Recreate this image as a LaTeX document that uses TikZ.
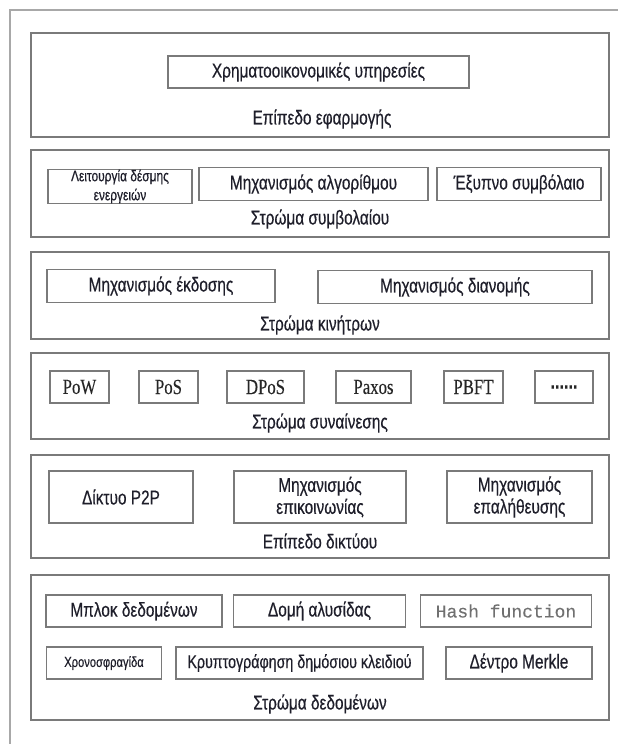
\documentclass[tikz,border=0pt]{standalone}
\usepackage{fontspec}
\setmainfont{Liberation Sans}[FakeStretch=0.77, FakeBold=0.4]
\newfontfamily\serifc{Liberation Serif}[FakeStretch=0.78, FakeBold=0.2]
\newfontfamily\monoc{Liberation Mono}[FakeBold=0.2]
\definecolor{framegray}{HTML}{A8A8A8}
\definecolor{linegray}{HTML}{7A7A7A}
\definecolor{inkcol}{HTML}{1E1E2A}
\definecolor{hashgray}{HTML}{707070}
\tikzset{
  layerbox/.style={draw=linegray, line width=1.4pt, inner sep=0pt},
  itembox/.style={draw=linegray, line width=1.3pt, inner sep=0pt, align=center,
    text=inkcol, font=\fontsize{20}{21}\selectfont},
  layerlabel/.style={text=inkcol, inner sep=0pt, font=\fontsize{20}{21}\selectfont},
  algbox/.style={itembox, text=black!85, font=\serifc\fontsize{21.5}{22}\selectfont, minimum height=32pt},
}
\begin{document}
\begin{tikzpicture}[x=1pt, y=-1pt]
\useasboundingbox (0,0) rectangle (618,744);
\clip (0,0) rectangle (618,744);
\fill[white] (0,0) rectangle (618,744);

% outer frame, running off the right and bottom edges
\draw[framegray, line width=1.2pt] (10,760) -- (10,10) -- (640,10);

% ---------- application layer ----------
\node[layerbox, minimum width=578pt, minimum height=104pt] (L1) at (320,85) {};
\node[itembox, minimum width=301pt, minimum height=32pt] (fin) at (318.5,72) {Χρηματοοικονομικές υπηρεσίες};
\node[layerlabel] (L1t) at (322,119) {Επίπεδο εφαρμογής};

% ---------- contract layer ----------
\node[layerbox, minimum width=578pt, minimum height=87pt] (L2) at (320,193.5) {};
\node[itembox, minimum width=144pt, minimum height=33pt, font=\fontsize{15.5}{19}\selectfont] (script) at (120,186.5) {Λειτουργία δέσμης\\ενεργειών};
\node[itembox, minimum width=229pt, minimum height=33pt] (algo) at (313.5,184) {Μηχανισμός αλγορίθμου};
\node[itembox, minimum width=164pt, minimum height=33pt] (smart) at (519,184) {Έξυπνο συμβόλαιο};
\node[layerlabel] (L2t) at (320,219) {Στρώμα συμβολαίου};

% ---------- incentive layer ----------
\node[layerbox, minimum width=578pt, minimum height=87pt] (L3) at (320,295.5) {};
\node[itembox, minimum width=228pt, minimum height=33pt] (issue) at (161,286) {Μηχανισμός έκδοσης};
\node[itembox, minimum width=274pt, minimum height=33pt] (distr) at (455,287) {Μηχανισμός διανομής};
\node[layerlabel] (L3t) at (320,325) {Στρώμα κινήτρων};

% ---------- consensus layer ----------
\node[layerbox, minimum width=578pt, minimum height=86pt] (L4) at (320,396) {};
\node[algbox, minimum width=59pt] (pow) at (79.5,387) {PoW};
\node[algbox, minimum width=59pt] (pos) at (168.5,387) {PoS};
\node[algbox, minimum width=77pt] (dpos) at (265.5,387) {DPoS};
\node[algbox, minimum width=75pt] (paxos) at (373.5,387) {Paxos};
\node[algbox, minimum width=59pt] (pbft) at (473.5,387) {PBFT};
\node[algbox, minimum width=58pt, font=\bfseries\fontsize{21}{21}\selectfont] (more) at (564,387) {......};
\node[layerlabel] (L4t) at (320,423) {Στρώμα συναίνεσης};

% ---------- network layer ----------
\node[layerbox, minimum width=578pt, minimum height=103pt] (L5) at (320,506.5) {};
\node[itembox, minimum width=144pt, minimum height=52pt] (p2p) at (121,497) {Δίκτυο P2P};
\node[itembox, minimum width=172pt, minimum height=52pt, font=\fontsize{20}{22}\selectfont] (comm) at (320,497) {Μηχανισμός\\επικοινωνίας};
\node[itembox, minimum width=145pt, minimum height=52pt, font=\fontsize{20}{22}\selectfont] (verif) at (519.5,497) {Μηχανισμός\\επαλήθευσης};
\node[layerlabel] (L5t) at (320,541) {Επίπεδο δικτύου};

% ---------- data layer ----------
\node[layerbox, minimum width=578pt, minimum height=145pt] (L6) at (320,647.5) {};
\node[itembox, minimum width=176pt, minimum height=32pt] (block) at (134,611) {Μπλοκ δεδομένων};
\node[itembox, minimum width=172pt, minimum height=32pt] (chain) at (319.5,611) {Δομή αλυσίδας};
\node[itembox, minimum width=171pt, minimum height=32pt, text=hashgray, font=\monoc\fontsize{18}{19}\selectfont] (hash) at (506,611) {Hash function};
\node[itembox, minimum width=115pt, minimum height=32pt, font=\fontsize{14.5}{16}\selectfont] (stamp) at (104,663) {Χρονοσφραγίδα};
\node[itembox, minimum width=247pt, minimum height=32pt, font=\fontsize{18.5}{20}\selectfont] (pkc) at (299.5,663) {Κρυπτογράφηση δημόσιου κλειδιού};
\node[itembox, minimum width=146pt, minimum height=32pt] (merkle) at (519,663) {Δέντρο Merkle};
\node[layerlabel] (L6t) at (320,704) {Στρώμα δεδομένων};
\end{tikzpicture}
\end{document}
